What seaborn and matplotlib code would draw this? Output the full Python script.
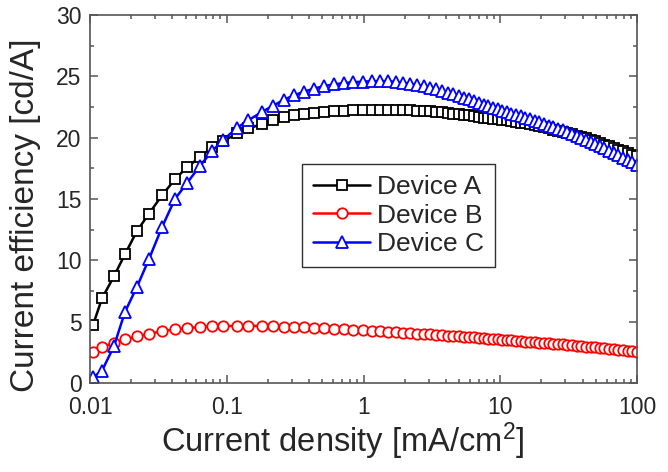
import matplotlib
matplotlib.use("Agg")
import matplotlib.pyplot as plt
import matplotlib.ticker as mticker
import seaborn as sns
import pandas as pd

# ---- data ----
current_density = [
    0.0105, 0.01224, 0.01497, 0.01803, 0.02207, 0.0270, 0.0336, 0.0418, 0.0512, 0.0637,
    0.0780, 0.0939, 0.1189, 0.1430, 0.1810, 0.2180, 0.2622, 0.3103, 0.3671, 0.4345,
    0.5143, 0.6086, 0.7203, 0.8379, 0.9915, 1.154, 1.320, 1.511, 1.715, 1.946,
    2.190, 2.464, 2.749, 3.066, 3.393, 3.753, 4.117, 4.517, 4.955, 5.391,
    5.865, 6.379, 6.940, 7.551, 8.166, 8.831, 9.550, 10.33, 11.17, 12.08,
    13.06, 14.13, 15.28, 16.52, 17.86, 19.32, 20.89, 22.59, 24.43, 26.42,
    28.58, 30.90, 33.42, 36.14, 39.08, 42.27, 45.71, 49.43, 53.46, 57.81,
    62.52, 67.61, 73.11, 79.07, 85.51, 92.47, 100.0,
]

device_a = [
    4.7, 6.9, 8.7, 10.5, 12.4, 13.8, 15.3, 16.6, 17.6, 18.4,
    19.2, 19.7, 20.35, 20.75, 21.1, 21.45, 21.7, 21.85, 21.97, 22.05,
    22.1, 22.15, 22.2, 22.22, 22.24, 22.25, 22.25, 22.25, 22.25, 22.24,
    22.22, 22.2, 22.17, 22.14, 22.1, 22.06, 22.02, 21.97, 21.92, 21.87,
    21.82, 21.76, 21.7, 21.64, 21.58, 21.55, 21.5, 21.45, 21.4, 21.35,
    21.3, 21.23, 21.16, 21.08, 21.0, 20.92, 20.84, 20.75, 20.66, 20.57,
    20.47, 20.37, 20.27, 20.16, 20.05, 19.94, 19.82, 19.7, 19.57, 19.44,
    19.31, 19.17, 19.03, 18.9, 18.76, 18.62, 18.48,
]

device_b = [
    2.55, 2.9, 3.3, 3.55, 3.8, 4.0, 4.22, 4.38, 4.48, 4.56,
    4.61, 4.64, 4.66, 4.66, 4.65, 4.63, 4.6, 4.57, 4.53, 4.49,
    4.45, 4.41, 4.37, 4.33, 4.28, 4.24, 4.2, 4.17, 4.13, 4.1,
    4.06, 4.03, 4.0, 3.96, 3.93, 3.9, 3.87, 3.83, 3.8, 3.77,
    3.74, 3.71, 3.68, 3.65, 3.62, 3.59, 3.56, 3.53, 3.5, 3.47,
    3.44, 3.41, 3.38, 3.35, 3.32, 3.29, 3.26, 3.23, 3.2, 3.17,
    3.14, 3.11, 3.07, 3.04, 3.0, 2.97, 2.93, 2.9, 2.86, 2.82,
    2.78, 2.74, 2.7, 2.66, 2.62, 2.58, 2.54,
]

device_c = [
    0.45, 1.0, 3.0, 5.8, 7.85, 10.1, 12.7, 15.0, 16.3, 17.7,
    18.9, 19.8, 20.8, 21.4, 22.1, 22.6, 23.1, 23.45, 23.75, 24.0,
    24.2, 24.35, 24.45, 24.52, 24.57, 24.6, 24.62, 24.6, 24.55, 24.48,
    24.4, 24.3, 24.18, 24.05, 23.93, 23.8, 23.67, 23.53, 23.39, 23.26,
    23.12, 22.98, 22.84, 22.7, 22.57, 22.44, 22.32, 22.2, 22.08, 21.97,
    21.85, 21.73, 21.61, 21.49, 21.37, 21.25, 21.12, 20.99, 20.86, 20.73,
    20.59, 20.45, 20.31, 20.16, 20.0, 19.84, 19.67, 19.5, 19.32, 19.13,
    18.94, 18.75, 18.56, 18.37, 18.18, 17.98, 17.78,
]

series_names = ["Device A", "Device B", "Device C"]
series_colors = ["black", "red", "blue"]
series_markers = ["s", "o", "^"]
series_marker_sizes = [7, 7.5, 8.5]

x_ticks = [0.01, 0.1, 1, 10, 100]
x_tick_labels = ["0.01", "0.1", "1", "10", "100"]
y_ticks = [0, 5, 10, 15, 20, 25, 30]

# ---- style ----
sns.set_style("ticks")
plt.rcParams["font.family"] = ["Liberation Sans", "DejaVu Sans"]
plt.rcParams["mathtext.fontset"] = "custom"
plt.rcParams["mathtext.rm"] = "Liberation Sans"
plt.rcParams["mathtext.it"] = "Liberation Sans"
plt.rcParams["mathtext.default"] = "regular"

fig = plt.figure(figsize=(6.68, 4.72), dpi=100)
ax = fig.add_axes([90 / 668, 89 / 472, 547 / 668, 368 / 472])

for name, ys, col, mk, ms in zip(series_names, [device_a, device_b, device_c],
                                 series_colors, series_markers, series_marker_sizes):
    df = pd.DataFrame({"x": current_density, "y": ys})
    sns.lineplot(data=df, x="x", y="y", ax=ax, color=col, marker=mk,
                 markersize=ms, markerfacecolor="white",
                 markeredgecolor=col, markeredgewidth=1.3, linewidth=1.8,
                 label=name, sort=False, estimator=None)

ax.set_xscale("log")
ax.set_xlim(0.01, 100)
ax.set_ylim(0, 30)
ax.set_xticks(x_ticks)
ax.set_xticklabels(x_tick_labels)
ax.xaxis.set_minor_locator(mticker.LogLocator(base=10, subs=range(2, 10), numticks=20))
ax.xaxis.set_minor_formatter(mticker.NullFormatter())
ax.set_yticks(y_ticks)
ax.yaxis.set_minor_locator(mticker.MultipleLocator(2.5))

spine_col = "#555555"
for s in ax.spines.values():
    s.set_color(spine_col)
    s.set_linewidth(1.2)
    s.set_visible(True)
ax.tick_params(which="both", direction="in", top=True, right=True,
               color=spine_col, width=1.1)
ax.tick_params(which="major", length=6, labelsize=16.5)
ax.tick_params(which="minor", length=3)
ax.tick_params(axis="x", which="major", pad=9)
ax.tick_params(axis="y", which="major", pad=6)

ax.set_xlabel("Current density [mA/cm$^{2}$]", fontsize=23.5)
ax.set_ylabel("Current efficiency [cd/A]", fontsize=24)
ax.xaxis.set_label_coords(0.4625, -0.103)
ax.yaxis.set_label_coords(-0.09, 0.457)

leg = ax.legend(loc="upper left", bbox_to_anchor=(0.388, 0.595),
                fontsize=19, frameon=True, fancybox=False,
                handlelength=2.15, borderpad=0.42, labelspacing=0.17,
                handletextpad=0.25, borderaxespad=0)
leg.get_frame().set_edgecolor("#303030")
leg.get_frame().set_linewidth(1.0)
leg.get_frame().set_alpha(1)

fig.savefig("out.png", dpi=100)
